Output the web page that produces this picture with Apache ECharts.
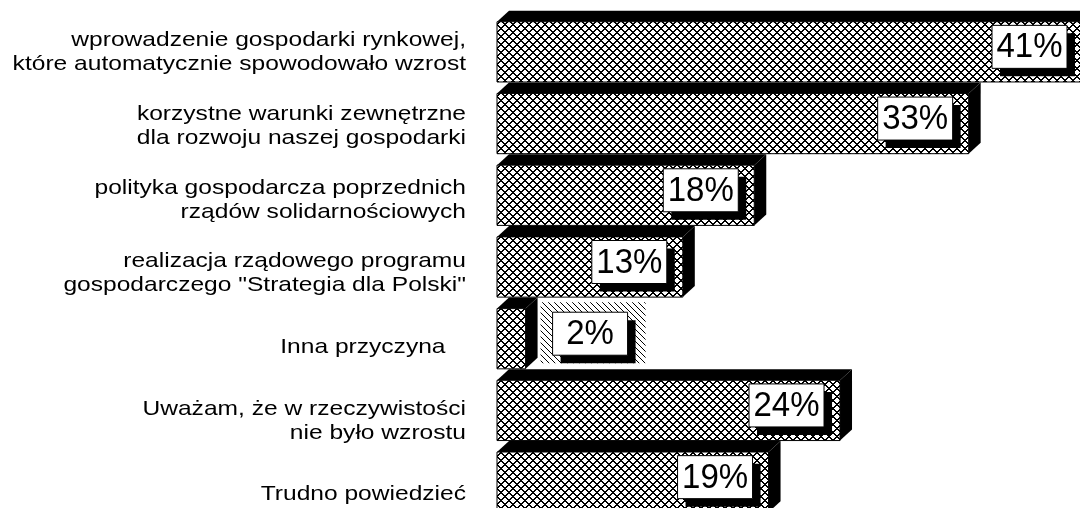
<!DOCTYPE html>
<html>
<head>
<meta charset="utf-8">
<script src="https://cdn.jsdelivr.net/npm/echarts@6/dist/echarts.min.js"></script>
<style>
  html, body { margin: 0; padding: 0; background: #fff; }
  #chart { width: 1080px; height: 508px; }
</style>
</head>
<body>
<div id="chart"></div>
<script>
// answers (top to bottom)
const categories = [
  'wprowadzenie gospodarki rynkowej,\nktóre automatycznie spowodowało wzrost',
  'korzystne warunki zewnętrzne\ndla rozwoju naszej gospodarki',
  'polityka gospodarcza poprzednich\nrządów solidarnościowych',
  'realizacja rządowego programu\ngospodarczego "Strategia dla Polski"',
  'Inna przyczyna   ',
  'Uważam, że w rzeczywistości\nnie było wzrostu',
  'Trudno powiedzieć',
]
const values = [41, 33, 18, 13, 2, 24, 19]
const valueLabels = ['41%', '33%', '18%', '13%', '2%', '24%', '19%']

// pixel tiles (no antialiasing), like the old print patterns
function makePattern(size, thick, both) {
  const c = document.createElement('canvas')
  c.width = c.height = size
  const ctx = c.getContext('2d')
  const img = ctx.createImageData(size, size)
  for (let y = 0; y < size; y++) {
    for (let x = 0; x < size; x++) {
      const a = (x - y + size) % size < thick
      const b = both && (x + y) % size < thick
      const v = a || b ? 0 : 255
      const i = (y * size + x) * 4
      img.data[i] = img.data[i + 1] = img.data[i + 2] = v
      img.data[i + 3] = 255
    }
  }
  ctx.putImageData(img, 0, 0)
  return c
}
const crossFill = { image: makePattern(8, 2, true), repeat: 'repeat' }
const hatchFill = { image: makePattern(6, 1, false), repeat: 'repeat' }

const FONT = '"Liberation Sans", Arial, sans-serif'

function renderBar(params, api) {
  const cat = api.value(1)
  const p0 = api.coord([0, cat])
  const p1 = api.coord([api.value(0), cat])
  const h = api.size([0, 1])[1] * 0.84
  const x0 = p0[0], x1 = p1[0], yc = p0[1]
  const top = yc - h / 2, bot = yc + h / 2
  const dx = 12, dy = 11

  const children = [
    { type: 'polygon', shape: { points: [[x0, top], [x0 + dx, top - dy], [x1 + dx, top - dy], [x1, top]] }, style: { fill: '#000' } },
    { type: 'polygon', shape: { points: [[x1, top], [x1 + dx, top - dy], [x1 + dx, bot - dy], [x1, bot]] }, style: { fill: '#000' } },
    { type: 'rect', shape: { x: x0, y: top, width: x1 - x0, height: h }, style: { fill: crossFill, stroke: '#000', lineWidth: 1 } },
  ]

  // value label box with drop shadow
  const bw = 75, bh = 43
  const inside = x1 - x0 > bw + 25
  const bx = inside ? x1 - 16 - bw : x1 + 27
  const by = yc - 26.5
  if (!inside) {
    children.push({ type: 'rect', shape: { x: bx - 12, y: by - 10, width: bw + 30, height: bh + 18 }, style: { fill: hatchFill } })
  }
  children.push(
    { type: 'rect', shape: { x: bx + 8, y: by + 8, width: bw, height: bh }, style: { fill: '#000' } },
    { type: 'rect', shape: { x: bx, y: by, width: bw, height: bh }, style: { fill: '#fff', stroke: '#000', lineWidth: 1 } },
    {
      type: 'text', x: bx + bw / 2, y: by + bh / 2 + 1, scaleY: 1.05,
      style: { text: valueLabels[params.dataIndex], fontFamily: FONT, fontSize: 33, fill: '#000', align: 'center', verticalAlign: 'middle' },
    }
  )
  return { type: 'group', children }
}

function renderLabel(params, api) {
  const p = api.coord([api.value(0), api.value(1)])
  return {
    type: 'text', x: p[0], y: p[1], scaleX: 1.17,
    style: {
      text: categories[params.dataIndex], fontFamily: FONT, fontSize: 21, lineHeight: 24,
      fill: '#000', align: 'right', verticalAlign: 'middle',
    },
  }
}

const chart = echarts.init(document.getElementById('chart'))
chart.setOption({
  animation: false,
  grid: [
    { left: 497, top: 16, width: 586, height: 502, outerBoundsMode: 'none' },
    { left: 0, top: 15.5, width: 466, height: 516, outerBoundsMode: 'none' },
  ],
  xAxis: [
    { type: 'value', gridIndex: 0, min: 0, max: 41, show: false },
    { type: 'value', gridIndex: 1, min: 0, max: 1, show: false },
  ],
  yAxis: [
    { type: 'category', gridIndex: 0, inverse: true, data: categories, show: false },
    { type: 'category', gridIndex: 1, inverse: true, data: categories, show: false },
  ],
  series: [
    {
      type: 'custom',
      xAxisIndex: 0, yAxisIndex: 0,
      renderItem: renderBar,
      encode: { x: 0, y: 1 },
      data: values.map((v, i) => [v, i]),
    },
    {
      type: 'custom',
      xAxisIndex: 1, yAxisIndex: 1,
      renderItem: renderLabel,
      encode: { x: 0, y: 1 },
      data: categories.map((c, i) => [1, i]),
    },
  ],
})
</script>
</body>
</html>
